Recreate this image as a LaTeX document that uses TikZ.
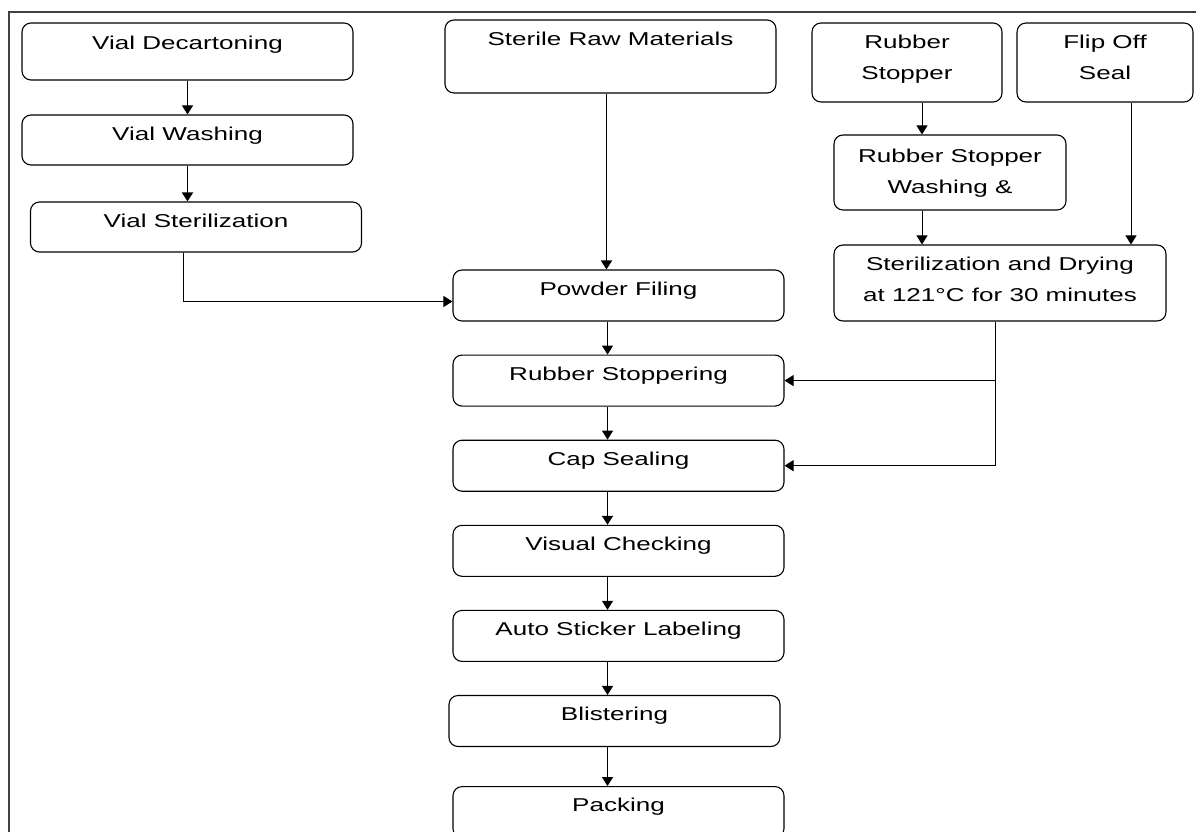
\documentclass[tikz,border=0pt]{standalone}
\usepackage{fontspec}
\setmainfont{Liberation Sans}[FakeStretch=1.4]
\usepackage{tikz}
\usetikzlibrary{arrows.meta,positioning}

\begin{document}
\begin{tikzpicture}[
  x=1pt, y=-1pt,
  box/.style={draw,rounded corners=9pt,line width=1.1pt,align=center,inner xsep=0pt,inner ysep=0pt,
    text height=25pt,text depth=26pt,minimum width=331pt,font=\fontsize{18.6}{31}\selectfont},
  arr/.style={-{Triangle[length=9pt,width=11pt]},line width=1pt},
  thickarr/.style={arr,line width=1.8pt},
  frame/.style={line width=1.4pt,draw=black!75}
]
\useasboundingbox (0,0) rectangle (1196,832);
\draw[frame] (9,832) -- (9,12) -- (1196,12);

% vial preparation
\node[box,text height=27pt,text depth=30pt] (decarton) at (187.5,51.5) {Vial Decartoning};
\node[box,text depth=25pt] (washing) at (187.5,140) {Vial Washing};
\node[box,text depth=25pt] (vialster) at (196,227) {Vial Sterilization};

% raw materials and main line
\node[box,text height=26pt,text depth=47pt] (rawmat) at (610.5,56.5) {Sterile Raw Materials};
\node[box] (filling) at (618.5,295.5) {Powder Filing};
\node[box,below=33pt of filling] (stoppering) {Rubber Stoppering};
\node[box,below=33pt of stoppering] (sealing) {Cap Sealing};
\node[box,below=33pt of sealing] (checking) {Visual Checking};
\node[box,below=33pt of checking] (labeling) {Auto Sticker Labeling};
\node[box,below=33pt of labeling,xshift=-4pt] (blistering) {Blistering};
\node[box,below=39pt of blistering,xshift=4pt] (packing) {Packing};

% stopper and seal preparation
\node[box,minimum width=190pt,text height=57pt,text depth=22pt] (stopper) at (907,62.5) {Rubber\\Stopper};
\node[box,minimum width=176pt,text height=57pt,text depth=22pt] (flipoff) at (1105,62.5) {Flip Off\\Seal};
\node[box,minimum width=232pt,text height=58pt,text depth=17pt] (stopwash) at (950,172.5) {Rubber Stopper\\Washing \&};
\node[box,minimum width=332pt,text height=56pt,text depth=20pt] (steridry) at (1000,283) {Sterilization and Drying\\at 121°C for 30 minutes};

\draw[arr] (decarton) -- (washing);
\draw[thickarr] (washing.south) -- (washing.south |- vialster.north);
\draw[arr] ([xshift=-13pt]vialster.south) |- ([yshift=-6pt]filling.west);
\draw[thickarr] ([xshift=-4pt]rawmat.south) -- ([xshift=-4pt]rawmat.south |- filling.north);
\draw[arr] ([xshift=-11pt]filling.south) -- ([xshift=-11pt]stoppering.north);
\draw[arr] ([xshift=-11pt]stoppering.south) -- ([xshift=-11pt]sealing.north);
\draw[thickarr] ([xshift=-11pt]sealing.south) -- ([xshift=-11pt]checking.north);
\draw[arr] ([xshift=-11pt]checking.south) -- ([xshift=-11pt]labeling.north);
\draw[arr] ([xshift=-11pt]labeling.south) -- ([xshift=-7pt]blistering.north);
\draw[arr] ([xshift=-7pt]blistering.south) -- ([xshift=-11pt]packing.north);
\draw[arr] ([xshift=15pt]stopper.south) -- ([xshift=15pt]stopper.south |- stopwash.north);
\draw[arr] ([xshift=-28pt]stopwash.south) -- ([xshift=-28pt]stopwash.south |- steridry.north);
\draw[arr] ([xshift=26pt]flipoff.south) -- ([xshift=26pt]flipoff.south |- steridry.north);
\draw[arr] ([xshift=-5pt]steridry.south) |- (stoppering.east);
\draw[arr] ([xshift=-5pt]steridry.south) |- (sealing.east);
\end{tikzpicture}
\end{document}
